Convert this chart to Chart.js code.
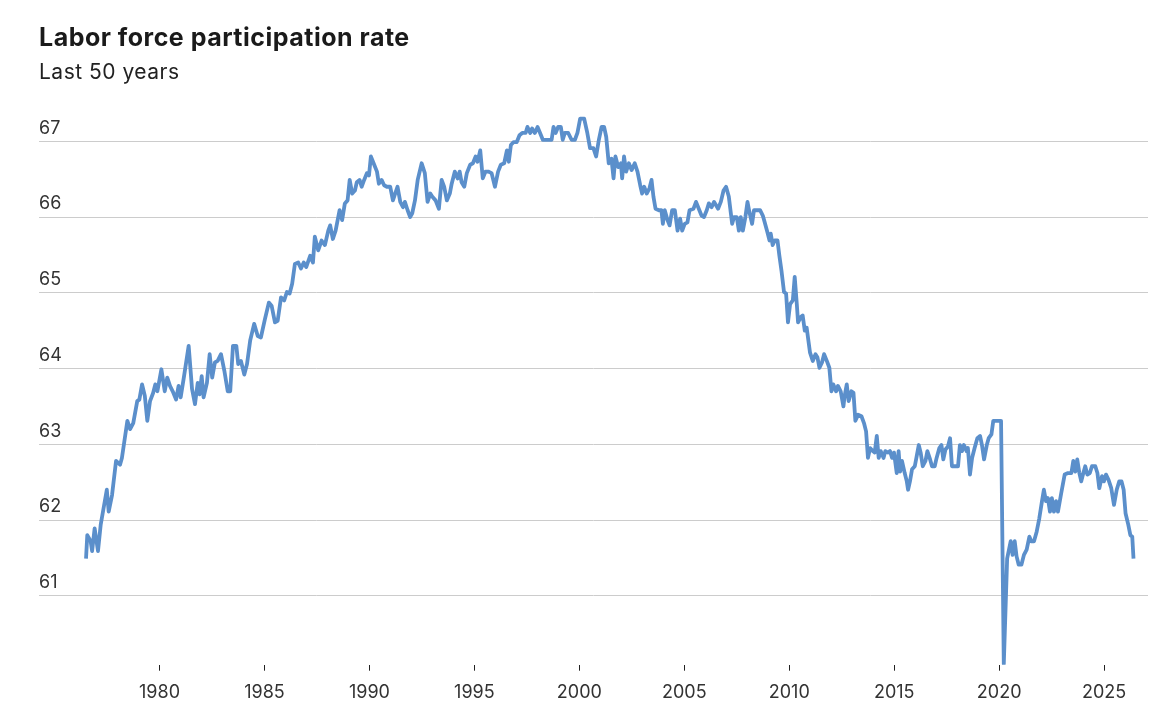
<!DOCTYPE html>
<html>
<head>
<meta charset="utf-8">
<title>Labor force participation rate</title>
<script src="https://cdn.jsdelivr.net/npm/chart.js@4.4.1/dist/chart.umd.min.js"></script>
<style>
    body { margin: 0; background: #fff; font-family: "Inter", sans-serif; }
    #wrap { position: relative; width: 1162px; height: 724px; }
    #title { position: absolute; left: 39px; top: 22px; font-size: 25px; font-weight: 700; color: #1a1a1a; line-height: 30px; white-space: nowrap; letter-spacing: 0.5px; }
    #subtitle { position: absolute; left: 39px; top: 59px; font-size: 21px; color: #222; line-height: 26px; white-space: nowrap; letter-spacing: 0.5px; }
    #chart { position: absolute; left: 0; top: 0; }
</style>
</head>
<body>
<div id="wrap">
    <canvas id="chart" width="1162" height="724"></canvas>
    <div id="title">Labor force participation rate</div>
    <div id="subtitle">Last 50 years</div>
</div>
<script>
// Date as decimal year
const years = [
    1976.50, 1976.56, 1976.72, 1976.79, 1976.91, 1977.07, 1977.20, 1977.49, 1977.58, 1977.74,
    1977.93, 1978.12, 1978.21, 1978.47, 1978.60, 1978.75, 1978.94, 1979.04, 1979.17, 1979.30,
    1979.42, 1979.55, 1979.70, 1979.80, 1979.90, 1980.09, 1980.25, 1980.37, 1980.50, 1980.63,
    1980.79, 1980.91, 1981.01, 1981.17, 1981.39, 1981.55, 1981.69, 1981.82, 1981.91, 1982.01,
    1982.10, 1982.26, 1982.39, 1982.51, 1982.64, 1982.77, 1982.93, 1983.09, 1983.25, 1983.37,
    1983.50, 1983.66, 1983.75, 1983.88, 1984.04, 1984.17, 1984.32, 1984.51, 1984.68, 1984.83,
    1985.02, 1985.21, 1985.34, 1985.50, 1985.63, 1985.79, 1985.94, 1986.07, 1986.20, 1986.32,
    1986.45, 1986.61, 1986.74, 1986.87, 1986.99, 1987.18, 1987.31, 1987.40, 1987.56, 1987.72,
    1987.88, 1988.04, 1988.13, 1988.26, 1988.39, 1988.58, 1988.70, 1988.83, 1988.96, 1989.06,
    1989.18, 1989.31, 1989.40, 1989.53, 1989.63, 1989.75, 1989.88, 1989.98, 1990.07, 1990.20,
    1990.36, 1990.45, 1990.58, 1990.70, 1990.83, 1990.99, 1991.12, 1991.25, 1991.34, 1991.47,
    1991.60, 1991.69, 1991.82, 1991.94, 1992.04, 1992.17, 1992.30, 1992.49, 1992.64, 1992.77,
    1992.90, 1992.99, 1993.15, 1993.31, 1993.44, 1993.56, 1993.69, 1993.83, 1993.92, 1994.07,
    1994.20, 1994.30, 1994.39, 1994.52, 1994.64, 1994.80, 1994.93, 1995.06, 1995.15, 1995.28,
    1995.40, 1995.53, 1995.66, 1995.82, 1995.98, 1996.13, 1996.26, 1996.42, 1996.55, 1996.64,
    1996.74, 1996.87, 1997.02, 1997.15, 1997.28, 1997.44, 1997.53, 1997.66, 1997.75, 1997.88,
    1998.01, 1998.13, 1998.26, 1998.45, 1998.68, 1998.77, 1998.87, 1998.99, 1999.12, 1999.21,
    1999.31, 1999.47, 1999.63, 1999.79, 1999.91, 2000.04, 2000.23, 2000.38, 2000.51, 2000.67,
    2000.80, 2000.93, 2001.06, 2001.18, 2001.28, 2001.40, 2001.53, 2001.63, 2001.72, 2001.85,
    2001.98, 2002.04, 2002.13, 2002.23, 2002.36, 2002.49, 2002.64, 2002.77, 2002.90, 2002.99,
    2003.09, 2003.21, 2003.34, 2003.44, 2003.53, 2003.63, 2003.79, 2003.91, 2003.98, 2004.07,
    2004.20, 2004.30, 2004.42, 2004.55, 2004.68, 2004.80, 2004.90, 2005.02, 2005.15, 2005.25,
    2005.44, 2005.56, 2005.69, 2005.82, 2005.94, 2006.07, 2006.17, 2006.30, 2006.42, 2006.61,
    2006.74, 2006.87, 2006.99, 2007.12, 2007.28, 2007.37, 2007.50, 2007.60, 2007.69, 2007.79,
    2007.91, 2008.01, 2008.10, 2008.23, 2008.32, 2008.45, 2008.61, 2008.74, 2008.83, 2008.96,
    2009.06, 2009.12, 2009.21, 2009.31, 2009.44, 2009.53, 2009.63, 2009.75, 2009.85, 2009.94,
    2010.04, 2010.17, 2010.26, 2010.36, 2010.42, 2010.55, 2010.64, 2010.74, 2010.83, 2010.99,
    2011.12, 2011.25, 2011.34, 2011.44, 2011.56, 2011.66, 2011.79, 2011.91, 2012.01, 2012.10,
    2012.23, 2012.32, 2012.45, 2012.58, 2012.64, 2012.74, 2012.83, 2012.96, 2013.06, 2013.15,
    2013.28, 2013.44, 2013.56, 2013.66, 2013.75, 2013.85, 2013.98, 2014.07, 2014.17, 2014.26,
    2014.36, 2014.49, 2014.58, 2014.71, 2014.80, 2014.90, 2014.99, 2015.12, 2015.21, 2015.28,
    2015.37, 2015.50, 2015.60, 2015.66, 2015.75, 2015.85, 2015.98, 2016.07, 2016.17, 2016.26,
    2016.36, 2016.49, 2016.58, 2016.71, 2016.80, 2016.93, 2017.02, 2017.15, 2017.25, 2017.34,
    2017.44, 2017.56, 2017.66, 2017.75, 2017.88, 2018.04, 2018.13, 2018.23, 2018.32, 2018.45,
    2018.51, 2018.61, 2018.71, 2018.83, 2018.96, 2019.09, 2019.18, 2019.28, 2019.41, 2019.50,
    2019.63, 2019.72, 2019.88, 2020.09, 2020.22, 2020.38, 2020.55, 2020.64, 2020.74, 2020.83,
    2020.93, 2021.06, 2021.18, 2021.31, 2021.44, 2021.53, 2021.66, 2021.79, 2021.91, 2022.04,
    2022.13, 2022.23, 2022.32, 2022.42, 2022.51, 2022.61, 2022.71, 2022.80, 2022.96, 2023.12,
    2023.28, 2023.44, 2023.53, 2023.63, 2023.72, 2023.82, 2023.91, 2024.01, 2024.10, 2024.20,
    2024.32, 2024.42, 2024.58, 2024.68, 2024.77, 2024.90, 2024.99, 2025.09, 2025.21, 2025.34,
    2025.47, 2025.60, 2025.72, 2025.83, 2025.93, 2026.02, 2026.15, 2026.25, 2026.34, 2026.40
];

// Participation rate (%)
const rates = [
    61.49, 61.80, 61.72, 61.59, 61.89, 61.59, 61.94, 62.40, 62.11, 62.33,
    62.78, 62.73, 62.82, 63.31, 63.20, 63.28, 63.57, 63.59, 63.79, 63.64,
    63.31, 63.57, 63.68, 63.79, 63.70, 63.99, 63.70, 63.88, 63.77, 63.70,
    63.59, 63.77, 63.62, 63.90, 64.30, 63.73, 63.53, 63.81, 63.66, 63.90,
    63.62, 63.81, 64.19, 63.88, 64.08, 64.10, 64.19, 63.97, 63.70, 63.70,
    64.30, 64.30, 64.06, 64.10, 63.92, 64.06, 64.37, 64.59, 64.43, 64.41,
    64.65, 64.87, 64.83, 64.61, 64.63, 64.94, 64.90, 65.01, 64.99, 65.12,
    65.38, 65.40, 65.32, 65.40, 65.34, 65.49, 65.40, 65.74, 65.56, 65.69,
    65.63, 65.82, 65.89, 65.71, 65.82, 66.09, 65.96, 66.18, 66.22, 66.49,
    66.31, 66.35, 66.46, 66.49, 66.40, 66.49, 66.58, 66.55, 66.80, 66.71,
    66.60, 66.44, 66.49, 66.42, 66.40, 66.40, 66.22, 66.33, 66.40, 66.20,
    66.13, 66.20, 66.09, 66.00, 66.05, 66.22, 66.49, 66.71, 66.58, 66.20,
    66.31, 66.27, 66.22, 66.11, 66.49, 66.40, 66.22, 66.31, 66.44, 66.60,
    66.51, 66.60, 66.46, 66.40, 66.58, 66.69, 66.71, 66.80, 66.73, 66.88,
    66.51, 66.60, 66.60, 66.58, 66.40, 66.60, 66.69, 66.71, 66.88, 66.73,
    66.95, 66.99, 66.99, 67.08, 67.11, 67.11, 67.19, 67.11, 67.17, 67.11,
    67.19, 67.11, 67.02, 67.02, 67.02, 67.19, 67.11, 67.19, 67.19, 67.02,
    67.11, 67.11, 67.02, 67.02, 67.11, 67.30, 67.30, 67.11, 66.91, 66.91,
    66.80, 67.02, 67.19, 67.19, 67.06, 66.71, 66.77, 66.51, 66.80, 66.66,
    66.71, 66.51, 66.80, 66.60, 66.71, 66.62, 66.71, 66.60, 66.42, 66.31,
    66.40, 66.31, 66.38, 66.49, 66.27, 66.11, 66.09, 66.09, 65.91, 66.09,
    65.96, 65.89, 66.09, 66.09, 65.82, 65.98, 65.82, 65.91, 65.93, 66.09,
    66.11, 66.20, 66.11, 66.02, 66.00, 66.09, 66.18, 66.13, 66.20, 66.11,
    66.20, 66.35, 66.40, 66.27, 65.91, 66.00, 66.00, 65.82, 66.00, 65.82,
    66.00, 66.20, 66.07, 65.91, 66.09, 66.09, 66.09, 66.02, 65.93, 65.80,
    65.69, 65.78, 65.63, 65.69, 65.69, 65.49, 65.29, 65.01, 64.99, 64.61,
    64.85, 64.90, 65.21, 64.85, 64.61, 64.68, 64.70, 64.50, 64.54, 64.21,
    64.10, 64.19, 64.15, 64.01, 64.08, 64.19, 64.10, 64.01, 63.70, 63.79,
    63.70, 63.77, 63.70, 63.50, 63.64, 63.79, 63.57, 63.70, 63.68, 63.31,
    63.39, 63.37, 63.28, 63.17, 62.82, 62.95, 62.91, 62.89, 63.11, 62.82,
    62.91, 62.82, 62.91, 62.89, 62.91, 62.82, 62.89, 62.62, 62.91, 62.64,
    62.78, 62.62, 62.51, 62.40, 62.51, 62.67, 62.71, 62.84, 62.99, 62.89,
    62.71, 62.78, 62.91, 62.80, 62.71, 62.71, 62.82, 62.95, 62.99, 62.80,
    62.93, 62.97, 63.08, 62.71, 62.71, 62.71, 62.99, 62.91, 62.99, 62.91,
    62.95, 62.60, 62.82, 62.95, 63.08, 63.11, 62.99, 62.80, 62.99, 63.08,
    63.13, 63.31, 63.31, 63.31, 60.10, 61.49, 61.72, 61.54, 61.72, 61.52,
    61.41, 61.41, 61.54, 61.61, 61.78, 61.72, 61.72, 61.85, 62.02, 62.25,
    62.40, 62.25, 62.29, 62.11, 62.29, 62.11, 62.25, 62.11, 62.36, 62.60,
    62.62, 62.62, 62.78, 62.64, 62.80, 62.62, 62.51, 62.62, 62.71, 62.60,
    62.62, 62.71, 62.71, 62.62, 62.42, 62.58, 62.51, 62.60, 62.53, 62.42,
    62.20, 62.40, 62.51, 62.51, 62.40, 62.09, 61.94, 61.80, 61.78, 61.49
];

// Axis labels
const xTicks = [1980, 1985, 1990, 1995, 2000, 2005, 2010, 2015, 2020, 2025];
const yTicks = [61, 62, 63, 64, 65, 66, 67];

const points = years.map((y, i) => ({ x: y, y: rates[i] }));

const ctx = document.getElementById('chart').getContext('2d');
new Chart(ctx, {
    type: 'line',
    data: {
        datasets: [{
            data: points,
            borderColor: '#5b8fcb',
            borderWidth: 3.8,
            borderJoinStyle: 'round',
            pointRadius: 0,
            tension: 0,
            fill: false
        }]
    },
    options: {
        responsive: false,
        animation: false,
        layout: {
            padding: { left: 39, right: 14, top: 111, bottom: 9.7 } // chart area bottom ~662
        },
        plugins: {
            legend: { display: false },
            tooltip: { enabled: false }
        },
        scales: {
            x: {
                type: 'linear',
                min: 1974.26,
                max: 2027.09,
                afterBuildTicks: axis => { axis.ticks = xTicks.map(v => ({ value: v })); },
                border: { display: false },
                grid: {
                    drawOnChartArea: false,
                    drawTicks: true,
                    tickLength: 6,
                    tickColor: '#222',
                    tickWidth: 1
                },
                ticks: {
                    autoSkip: false,
                    maxRotation: 0,
                    padding: 11,
                    color: '#333',
                    font: { family: 'Inter', size: 18 },
                    callback: v => String(v)
                }
            },
            y: {
                min: 60.09,
                max: 67.4,
                afterBuildTicks: axis => { axis.ticks = yTicks.map(v => ({ value: v })); },
                border: { display: false },
                grid: {
                    color: '#cccccc',
                    lineWidth: 1,
                    drawTicks: false
                },
                ticks: {
                    mirror: true,
                    padding: 0,
                    labelOffset: -13,
                    color: '#333',
                    font: { family: 'Inter', size: 18 }
                }
            }
        }
    }
});
</script>
</body>
</html>
